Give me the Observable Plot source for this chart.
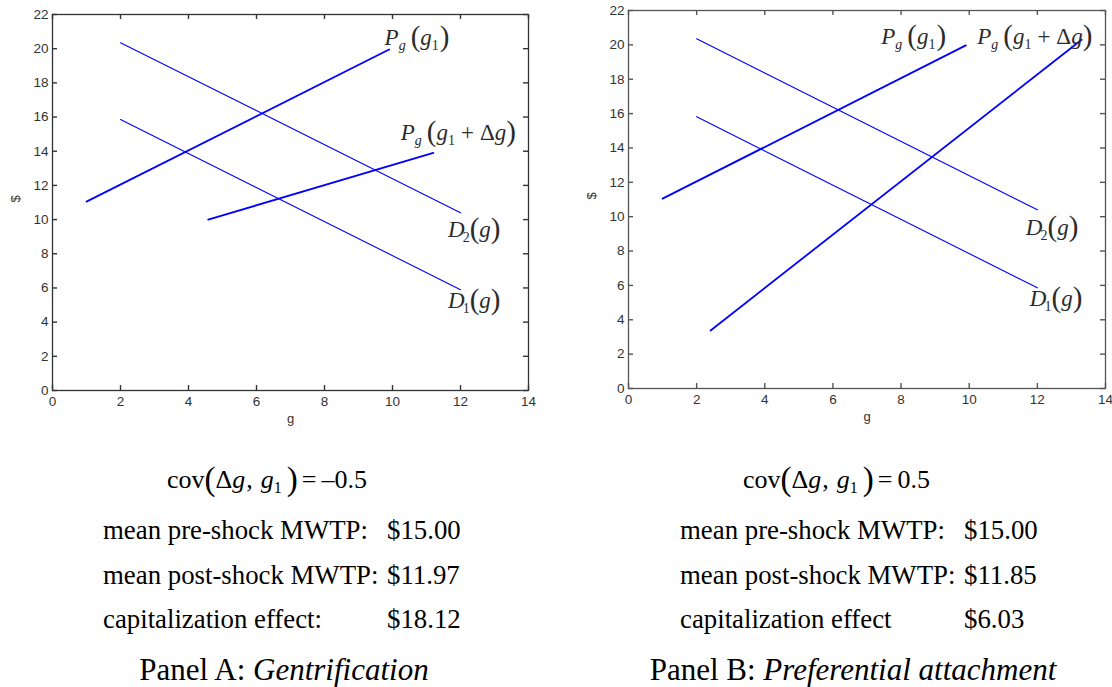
<!DOCTYPE html>
<html>
<head>
<meta charset="utf-8">
<script src="https://cdn.jsdelivr.net/npm/d3@7"></script>
<script src="https://cdn.jsdelivr.net/npm/@observablehq/plot@0.6"></script>
<style>
  body { margin: 0; background: #fff; }
  #wrap { position: relative; width: 1112px; height: 687px; overflow: hidden; background: #fff; }
  #wrap > svg { position: absolute; }
</style>
</head>
<body>
<div id="wrap"></div>
<script>
// ---------- data ----------
const xTicks = [0, 2, 4, 6, 8, 10, 12, 14];
const yTicks = [0, 2, 4, 6, 8, 10, 12, 14, 16, 18, 20, 22];

// Panel A (Gentrification): line endpoints [g, $]
const aD1 = [[2, 15.85], [12, 5.9]];
const aD2 = [[2, 20.35], [12, 10.4]];
const aPg1 = [[1, 11.05], [9.9, 19.95]];
const aPg1dg = [[4.58, 10.0], [11.2, 13.9]];

// Panel B (Preferential attachment)
const bD1 = [[2, 15.82], [12, 5.86]];
const bD2 = [[2, 20.35], [12, 10.4]];
const bPg1 = [[1, 11.05], [9.9, 19.97]];
const bPg1dg = [[2.41, 3.38], [13.3, 20.3]];

// caption texts
const covA = "–0.5";
const covB = "0.5";
const rowLabelsA = ["mean pre-shock MWTP:", "mean post-shock MWTP:", "capitalization effect:"];
const rowValuesA = ["$15.00", "$11.97", "$18.12"];
const rowLabelsB = ["mean pre-shock MWTP:", "mean post-shock MWTP:", "capitalization effect"];
const rowValuesB = ["$15.00", "$11.85", "$6.03"];
const panelA = ["Panel A: ", "Gentrification"];
const panelB = ["Panel B: ", "Preferential attachment"];

// ---------- drawing ----------
const wrap = document.getElementById("wrap");
const SERIF = "'Liberation Serif','Times New Roman',serif";
const W = 556, H = 430, TICK = 5;

function makePanel(lines, m, left) {
  const [d1, d2, p1, p2] = lines;
  const lineOpts = (w) => ({x: d => d[0], y: d => d[1], stroke: "#0000ff", strokeWidth: w});
  const iw = W - m.left - m.right, ih = H - m.top - m.bottom;
  const plot = Plot.plot({
    width: W,
    height: H,
    marginLeft: m.left, marginRight: m.right, marginTop: m.top, marginBottom: m.bottom,
    style: {fontFamily: "'Liberation Sans', Arial, sans-serif", fontSize: "13.5px", color: "#333", background: "transparent"},
    x: {domain: [0, 14]},
    y: {domain: [0, 22]},
    marks: [
      Plot.frame({stroke: m.frame, strokeWidth: 1.3}),
      // tick labels (no tick lines)
      Plot.axisX(xTicks, {anchor: "bottom", tickSize: 0, tickPadding: 6, label: null}),
      Plot.axisY(yTicks, {anchor: "left", tickSize: 0, tickPadding: 4, label: null}),
      // inward tick marks on all four sides
      Plot.tickX(xTicks, {x: d => d, insetTop: ih - TICK, stroke: m.frame, strokeWidth: 1.4}),
      Plot.tickX(xTicks, {x: d => d, insetBottom: ih - TICK, stroke: m.frame, strokeWidth: 1.4}),
      Plot.tickY(yTicks, {y: d => d, insetRight: iw - TICK, stroke: m.frame, strokeWidth: 1.4}),
      Plot.tickY(yTicks, {y: d => d, insetLeft: iw - TICK, stroke: m.frame, strokeWidth: 1.4}),
      Plot.text(["g"], {frameAnchor: "bottom", dy: 32, fontSize: 13, fill: "#333"}),
      Plot.text(["$"], {frameAnchor: "left", dx: -37, rotate: -90, fontSize: 13, fill: "#333"}),
      Plot.line(d1, lineOpts(1.1)),
      Plot.line(d2, lineOpts(1.1)),
      Plot.line(p1, lineOpts(1.8)),
      Plot.line(p2, lineOpts(1.8))
    ]
  });
  plot.style.left = left + "px";
  plot.style.top = "0px";
  wrap.appendChild(plot);
  return plot;
}

// math-style label builder
function mathLabel(svg, px, py, kind, sub) {
  const t = d3.select(svg).append("text")
    .attr("x", px).attr("y", py)
    .attr("text-anchor", "start")
    .attr("font-family", SERIF)
    .attr("fill", "#2b2b2b")
    .attr("font-size", 22);
  const parts = [];
  if (kind === "P") {
    parts.push({t: "P", it: true, fs: 23});
    parts.push({t: "g", it: true, fs: 14, dy: 5});
    parts.push({t: "(", fs: 29, dy: -4, dx: 5});
    parts.push({t: "g", it: true, fs: 23, dy: -1});
    parts.push({t: "1", fs: 14, dy: 5});
    if (sub) {
      parts.push({t: "+", fs: 23, dy: -5, dx: 6});
      parts.push({t: "Δ", fs: 23, dx: 6});
      parts.push({t: "g", it: true, fs: 23});
      parts.push({t: ")", fs: 29, dy: 1});
    } else {
      parts.push({t: ")", fs: 29, dy: -4, dx: 1});
    }
  } else {
    parts.push({t: "D", it: true, fs: 23});
    parts.push({t: sub, fs: 14, dy: 5, dx: -2});
    parts.push({t: "(", fs: 29, dy: -4});
    parts.push({t: "g", it: true, fs: 23, dy: -1});
    parts.push({t: ")", fs: 29, dy: 1});
  }
  parts.forEach(p => {
    const s = t.append("tspan").text(p.t).attr("font-size", p.fs);
    if (p.it) s.attr("font-style", "italic");
    if (p.dy) s.attr("dy", p.dy);
    if (p.dx) s.attr("dx", p.dx);
  });
}

function addLabels(plot, lines, offs) {
  const sx = plot.scale("x"), sy = plot.scale("y");
  const [d1, d2, p1, p2] = lines;
  const end = (l) => [sx.apply(l[1][0]), sy.apply(l[1][1])];
  const e1 = end(p1), e2 = end(p2), e3 = end(d2), e4 = end(d1);
  mathLabel(plot, e1[0] + offs[0][0], e1[1] + offs[0][1], "P", false);
  mathLabel(plot, e2[0] + offs[1][0], e2[1] + offs[1][1], "P", true);
  mathLabel(plot, e3[0] + offs[2][0], e3[1] + offs[2][1], "D", "2");
  mathLabel(plot, e4[0] + offs[3][0], e4[1] + offs[3][1], "D", "1");
}

const linesA = [aD1, aD2, aPg1, aPg1dg];
const linesB = [bD1, bD2, bPg1, bPg1dg];

const plotA = makePanel(linesA, {left: 52, right: 28, top: 14, bottom: 40, frame: "#333"}, 0);
const plotB = makePanel(linesB, {left: 72, right: 7, top: 10, bottom: 42, frame: "#555"}, 556);

addLabels(plotA, linesA, [[-4, -4], [-32, -12], [-12, 25], [-12, 19]]);
addLabels(plotB, linesB, [[-84, -1], [-104, 5], [-11, 26], [-7, 19]]);

// ---------- captions below ----------
const cap = d3.select(wrap).append("svg")
  .attr("width", 1112).attr("height", 257)
  .style("left", "0px").style("top", "430px")
  .attr("font-family", SERIF).attr("fill", "#000");

function covText(x, y, val) {
  const t = cap.append("text").attr("x", x).attr("y", y).attr("font-size", 26);
  t.append("tspan").text("cov");
  t.append("tspan").text("(").attr("font-size", 33).attr("dy", 2);
  t.append("tspan").text("Δ").attr("dy", -2);
  t.append("tspan").text("g").attr("font-style", "italic");
  t.append("tspan").text(",").attr("dx", 1);
  t.append("tspan").text("g").attr("font-style", "italic").attr("dx", 8);
  t.append("tspan").text("1").attr("font-size", 16).attr("dy", 5);
  t.append("tspan").text(")").attr("font-size", 33).attr("dy", -3).attr("dx", 5);
  t.append("tspan").text("=").attr("dy", -2).attr("dx", 4);
  t.append("tspan").text(val).attr("dx", 5);
}

function rows(xl, xv, labels, values) {
  const base = [539, 584, 628];
  labels.forEach((s, i) => {
    cap.append("text").attr("x", xl).attr("y", base[i] - 430).attr("font-size", 26.8).text(s);
    cap.append("text").attr("x", xv).attr("y", base[i] - 430).attr("font-size", 26.8).text(values[i]);
  });
}

function panelTitle(cx, parts) {
  const t = cap.append("text").attr("x", cx).attr("y", 680 - 430).attr("font-size", 31).attr("text-anchor", "middle");
  t.append("tspan").text(parts[0]);
  t.append("tspan").text(parts[1]).attr("font-style", "italic");
}

covText(167, 488 - 430, covA);
covText(743, 488 - 430, covB);
rows(103, 387, rowLabelsA, rowValuesA);
rows(680, 964, rowLabelsB, rowValuesB);
panelTitle(284, panelA);
panelTitle(853, panelB);
</script>
</body>
</html>
